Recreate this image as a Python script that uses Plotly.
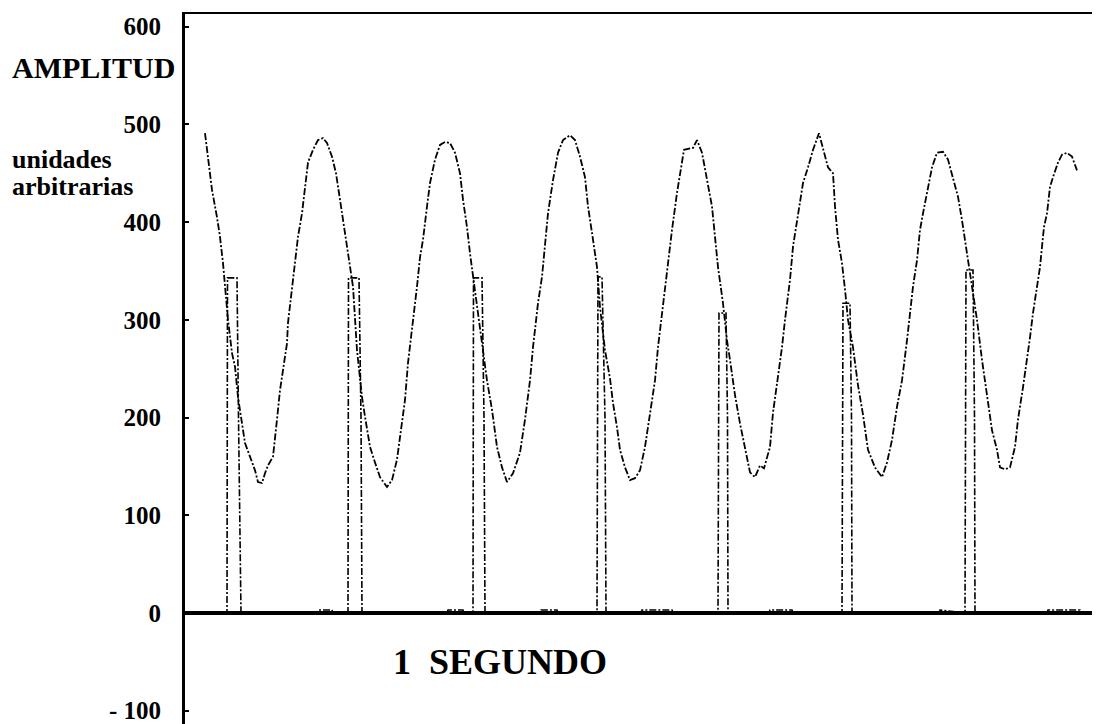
import plotly.graph_objects as go

# Amplitude waveform (time in arbitrary units, value in arbitrary units)
wave_t = [20, 23, 27, 32, 35, 38, 40, 43, 47, 50, 53, 57, 60, 65, 70, 73, 77, 80, 83, 88, 90, 92, 95, 98, 102, 103,
          106, 110, 113, 117, 120, 123, 128, 133, 138, 142, 147, 151, 155, 158, 162, 165, 168, 172, 177, 180, 185,
          190, 195, 202, 207, 212, 215, 220, 223, 228, 232, 235, 238, 242, 245, 250, 255, 260, 265, 270, 275, 278,
          282, 285, 288, 292, 297, 302, 307, 312, 317, 322, 328, 335, 340, 345, 348, 353, 357, 360, 363, 368, 373,
          378, 385, 390, 395, 400, 403, 407, 412, 415, 420, 425, 428, 432, 435, 440, 445, 450, 455, 460, 465, 470,
          473, 477, 482, 487, 492, 497, 499, 508, 512, 517, 522, 527, 530, 533, 538, 542, 545, 550, 555, 560, 565,
          570, 575, 579, 582, 585, 588, 593, 597, 600, 605, 608, 613, 618, 623, 628, 634, 638, 643, 648, 650, 653,
          657, 660, 663, 668, 673, 678, 683, 690, 697, 702, 707, 712, 717, 722, 725, 728, 732, 735, 738, 743, 747,
          752, 758, 763, 768, 773, 777, 782, 787, 792, 797, 802, 807, 812, 815, 820, 825, 830, 833, 838, 842, 845,
          848, 852, 855, 857, 859, 862, 865, 868, 873, 877, 882, 887, 892]
wave_v = [491, 464, 433, 405, 385, 358, 331, 300, 266, 252, 221, 194, 174, 160, 146, 134, 133, 143, 151, 160, 177,
          198, 228, 249, 276, 297, 323, 358, 385, 409, 433, 461, 474, 484, 486, 481, 467, 450, 423, 402, 375, 354,
          334, 269, 221, 201, 170, 154, 139, 129, 136, 157, 180, 218, 256, 297, 334, 364, 382, 416, 440, 464, 479,
          482, 481, 471, 450, 423, 395, 368, 344, 313, 272, 238, 208, 170, 149, 134, 143, 164, 198, 238, 272, 317,
          344, 375, 409, 443, 471, 484, 489, 484, 467, 446, 416, 389, 354, 313, 269, 240, 215, 190, 167, 149, 136,
          138, 146, 170, 205, 238, 272, 307, 351, 392, 430, 461, 474, 476, 484, 471, 443, 416, 385, 354, 317, 279,
          259, 223, 194, 167, 144, 139, 151, 148, 158, 170, 205, 242, 272, 300, 341, 375, 409, 440, 456, 474, 491,
          474, 456, 450, 416, 382, 358, 331, 300, 272, 233, 203, 167, 149, 139, 154, 177, 211, 238, 279, 307, 334,
          361, 392, 409, 436, 456, 471, 472, 464, 446, 426, 402, 368, 334, 300, 259, 221, 187, 167, 149, 147, 149,
          170, 198, 231, 259, 282, 307, 334, 354, 375, 395, 409, 436, 446, 461, 469, 471, 467, 453]

# Pulse signal (rectangular pulses from baseline 0)
pulse_t = [0, 41, 42, 42.5, 52, 53.5, 55.5, 56, 132, 133, 147, 148, 162, 163, 163.5, 174, 176, 177, 178,
           262, 263, 278, 279, 287.5, 288, 288.5, 297, 299, 300, 301, 355, 356, 372, 373, 411.5, 412, 413, 417,
           420, 421, 422, 456, 457, 487, 488, 532.5, 533, 534, 541, 542.5, 543, 544, 584, 585, 607, 608, 621,
           622, 656.5, 657, 658, 665, 666.5, 667, 668, 754, 755, 779.5, 780, 781, 788, 789.5, 790, 791, 862,
           863, 895, 896, 915]
pulse_v = [0, 0, 0, 343, 343, 200, 0, 0, 0, 3, 3, 0, 0, 0, 343, 343, 200, 0, 0,
           0, 3, 3, 0, 0, 0, 343, 343, 200, 0, 0, 0, 3, 3, 0, 0, 0, 344, 344,
           200, 0, 0, 0, 3, 3, 0, 0, 0, 307, 307, 200, 0, 0, 0, 3, 3, 0, 0,
           0, 0, 0, 317, 317, 200, 0, 0, 0, 3, 0, 0, 351, 351, 200, 0, 0, 0,
           3, 3, 0, 0]

tick_vals = [-100, 0, 100, 200, 300, 400, 500, 600]
tick_text = ["- 100", "0", "100", "200", "300", "400", "500", "600"]

serif = "Liberation Serif, Times New Roman, serif"
dash = "7px,2px,2px,2px"

fig = go.Figure()
fig.add_trace(go.Scatter(x=pulse_t, y=pulse_v, mode="lines",
                         line=dict(color="black", width=1.6, dash=dash), showlegend=False))
fig.add_trace(go.Scatter(x=wave_t, y=wave_v, mode="lines",
                         line=dict(color="black", width=1.8, dash=dash), showlegend=False))

fig.update_layout(
    width=1100, height=724,
    margin=dict(l=177, r=8, t=6, b=8),
    paper_bgcolor="white", plot_bgcolor="white",
    font=dict(family=serif, color="black"),
    xaxis=dict(range=[0, 915], side="top", showline=True, linecolor="black", linewidth=2,
               showticklabels=False, ticks="", showgrid=False, zeroline=False, automargin=False),
    yaxis=dict(range=[-113.6, 613], showline=True, linecolor="black", linewidth=3,
               tickvals=tick_vals, ticktext=tick_text, ticks="inside", ticklen=4, tickwidth=2,
               tickcolor="black", ticklabelstandoff=16, automargin=False, ticklabeloverflow="allow",
               tickfont=dict(family=serif, size=25, color="black", weight="bold"),
               showgrid=False, zeroline=True, zerolinecolor="black", zerolinewidth=4),
    annotations=[
        dict(text="AMPLITUD", xref="paper", yref="paper", x=(10 - 185) / 915, y=(724 - 67) / 710,
             xanchor="left", yanchor="middle", showarrow=False,
             font=dict(family=serif, size=30, weight="bold", color="black")),
        dict(text="unidades", xref="paper", yref="paper", x=(10 - 185) / 915, y=(724 - 160) / 710,
             xanchor="left", yanchor="middle", showarrow=False,
             font=dict(family=serif, size=26, weight="bold", color="black")),
        dict(text="arbitrarias", xref="paper", yref="paper", x=(10 - 185) / 915, y=(724 - 186) / 710,
             xanchor="left", yanchor="middle", showarrow=False,
             font=dict(family=serif, size=26, weight="bold", color="black")),
        dict(text="1\u00a0\u00a0SEGUNDO", xref="paper", yref="paper", x=(391 - 185) / 915, y=(724 - 662) / 710,
             xanchor="left", yanchor="middle", showarrow=False,
             font=dict(family=serif, size=36, weight="bold", color="black")),
    ],
)

fig.write_html("out.html")
